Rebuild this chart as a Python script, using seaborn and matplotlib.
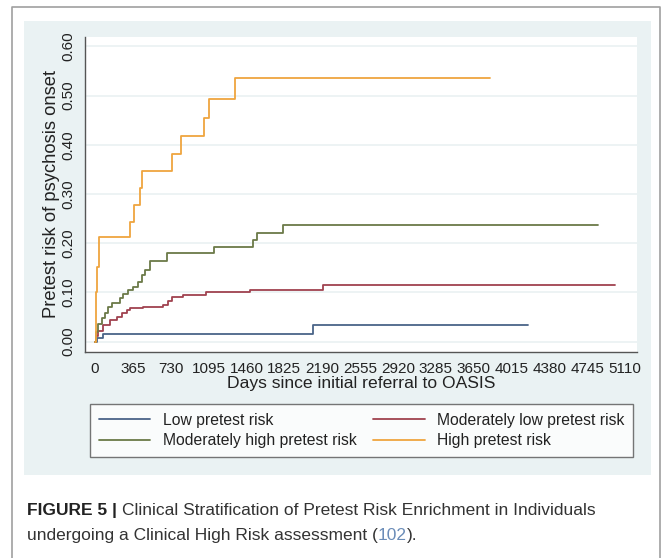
import numpy as np
import pandas as pd
import seaborn as sns
import matplotlib.pyplot as plt
from matplotlib.lines import Line2D
from matplotlib.patches import Rectangle

# step data (day of event, cumulative risk)
low_days = [0, 20, 75, 2099, 4172]
low_risk = [0, 0.007, 0.0157, 0.034, 0.034]

modlow_days = [0, 10, 30, 80, 145, 209, 257, 305, 338, 466, 659, 707, 740, 852, 1070, 1495, 2196, 5014]
modlow_risk = [0, 0.012, 0.022, 0.034, 0.044, 0.051, 0.058, 0.064, 0.068, 0.070, 0.075, 0.083, 0.090, 0.095, 0.100, 0.105, 0.115, 0.115]

modhigh_days = [0, 10, 30, 64, 96, 128, 161, 241, 273, 321, 369, 418, 450, 482, 530, 691, 1150, 1525, 1560, 1816, 4847]
modhigh_risk = [0, 0.02, 0.035, 0.048, 0.058, 0.071, 0.079, 0.088, 0.096, 0.104, 0.111, 0.122, 0.136, 0.146, 0.163, 0.181, 0.193, 0.207, 0.220, 0.237, 0.237]

high_days = [0, 8, 16, 38, 335, 379, 432, 458, 747, 828, 1051, 1100, 1352, 3810]
high_risk = [0, 0.10, 0.152, 0.213, 0.244, 0.278, 0.312, 0.346, 0.382, 0.418, 0.455, 0.493, 0.535, 0.535]

groups = ["Low pretest risk", "Moderately low pretest risk",
          "Moderately high pretest risk", "High pretest risk"]
colors = ["#4a6488", "#a0424f", "#6b7a48", "#efa53f"]

x_ticks = list(range(0, 5111, 365))
y_ticks = [0.0, 0.1, 0.2, 0.3, 0.4, 0.5, 0.6]

frames = []
for g, d, r in zip(groups, [low_days, modlow_days, modhigh_days, high_days],
                   [low_risk, modlow_risk, modhigh_risk, high_risk]):
    frames.append(pd.DataFrame({"days": d, "risk": r, "group": g}))
df = pd.concat(frames, ignore_index=True)

sns.set_style("white")
plt.rcParams["font.family"] = ["Liberation Sans", "DejaVu Sans"]

W, H = 663, 558
fig = plt.figure(figsize=(W / 100, H / 100), dpi=100)
fig.patch.set_facecolor("white")

def fx(px):
    return px / W

def fy(py):
    return 1 - py / H

# outer frame and stata-like panel
fig.add_artist(Line2D([fx(12), fx(12), fx(660), fx(660)], [0, fy(7), fy(7), 0],
                      color="#a0a0a0", lw=1.2))
fig.add_artist(Rectangle((fx(24), fy(475)), fx(651) - fx(24), fy(21) - fy(475),
                         facecolor="#eaf2f3", edgecolor="none", zorder=0))

ax = fig.add_axes([fx(85), fy(352), fx(637) - fx(85), fy(37) - fy(352)])
ax.set_facecolor("white")

sns.lineplot(data=df, x="days", y="risk", hue="group", hue_order=groups,
             palette=colors, estimator=None, drawstyle="steps-post",
             linewidth=1.3, legend=False, ax=ax)

ax.set_xlim(-96, 5226)
ax.set_ylim(-0.021, 0.619)
ax.set_xticks(x_ticks)
ax.set_xticklabels([str(t) for t in x_ticks], fontsize=11, color="#222222")
ax.set_yticks(y_ticks)
ax.set_yticklabels(["%.2f" % t for t in y_ticks], fontsize=11, color="#222222",
                   rotation=90, va="center")
for y in y_ticks:
    ax.axhline(y, color="#eaf1f2", lw=1.2, zorder=0)
ax.tick_params(axis="both", direction="out", length=5, width=0.9, color="#555555", pad=2)
for s in ["top", "right"]:
    ax.spines[s].set_visible(False)
for s in ["left", "bottom"]:
    ax.spines[s].set_color("#555555")
    ax.spines[s].set_linewidth(1.0)
ax.set_xlabel("Days since initial referral to OASIS", fontsize=12.6, color="#222222", labelpad=0)
ax.set_ylabel("Pretest risk of psychosis onset", fontsize=13.2, color="#222222", labelpad=1)

handles = [Line2D([0], [0], color=c, lw=1.3) for c in colors]
order = [0, 2, 1, 3]
leg = fig.legend([handles[i] for i in order], [groups[i] for i in order],
                 loc="upper left", bbox_to_anchor=(fx(90), fy(404)),
                 ncol=2, fontsize=11.3, frameon=True, fancybox=False,
                 handlelength=3.3, borderaxespad=0, borderpad=0.55, labelspacing=0.35,
                 handletextpad=0.82, columnspacing=1.0)
leg.get_frame().set_edgecolor("#555555")
leg.get_frame().set_linewidth(1.0)
for t in leg.get_texts():
    t.set_color("#222222")

# caption
cap_font = ["Liberation Sans Narrow", "Liberation Sans", "DejaVu Sans"]
renderer = fig.canvas.get_renderer()

def put_parts(parts, x0, y0):
    x = x0
    for txt, weight, col in parts:
        t = fig.text(x, y0, txt, fontsize=12.5, fontweight=weight, color=col,
                     family=cap_font, va="baseline", ha="left")
        bb = t.get_window_extent(renderer=renderer)
        x += bb.width / W

put_parts([("FIGURE 5 | ", "bold", "#222222"),
           ("Clinical Stratification of Pretest Risk Enrichment in Individuals", "normal", "#333333")],
          fx(27), fy(515))
put_parts([("undergoing a Clinical High Risk assessment (", "normal", "#333333"),
           ("102", "normal", "#6a8cb8"),
           (").", "normal", "#333333")],
          fx(27), fy(540))

fig.savefig("out.png", dpi=100, facecolor="white")
